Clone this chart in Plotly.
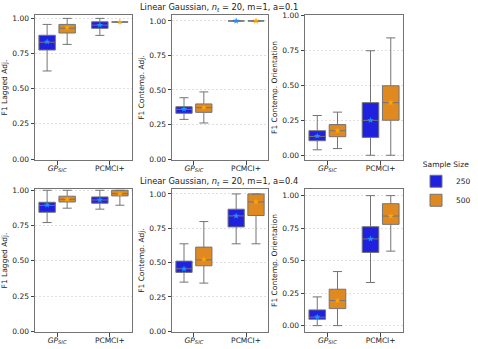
import plotly.graph_objects as go

# ---------------- data ----------------
methods = ["GP_SIC", "PCMCI+"]
method_labels = ["<i>GP</i><sub><i>SIC</i></sub>", "PCMCI+"]
sample_sizes = ["250", "500"]
metric_titles = ["F1 Lagged Adj.", "F1 Contemp. Adj.", "F1 Contemp. Orientation"]
row_titles = ["Linear Gaussian, <i>n</i><sub><i>t</i></sub> = 20, m=1, a=0.1",
              "Linear Gaussian, <i>n</i><sub><i>t</i></sub> = 20, m=1, a=0.4"]
y_tickvals = [0.0, 0.25, 0.5, 0.75, 1.0]

# each entry per method: [lower whisker, q1, median, q3, upper whisker, mean]
a01_lag_250 = [[0.626, 0.775, 0.830, 0.880, 0.957, 0.834], [0.879, 0.929, 0.952, 0.976, 1.000, 0.953]]
a01_lag_500 = [[0.815, 0.896, 0.930, 0.957, 1.000, 0.934], [0.974, 0.974, 0.974, 0.974, 0.974, 0.974]]
a01_adj_250 = [[0.287, 0.331, 0.360, 0.379, 0.444, 0.362], [1.000, 1.000, 1.000, 1.000, 1.000, 1.000]]
a01_adj_500 = [[0.261, 0.338, 0.372, 0.399, 0.486, 0.372], [1.000, 1.000, 1.000, 1.000, 1.000, 1.000]]
a01_ori_250 = [[0.039, 0.104, 0.135, 0.176, 0.285, 0.138], [0.000, 0.128, 0.250, 0.377, 0.749, 0.251]]
a01_ori_500 = [[0.048, 0.133, 0.176, 0.220, 0.309, 0.176], [0.000, 0.251, 0.377, 0.498, 0.841, 0.377]]
a04_lag_250 = [[0.771, 0.844, 0.893, 0.915, 1.000, 0.896], [0.866, 0.908, 0.931, 0.953, 1.000, 0.932]]
a04_lag_500 = [[0.873, 0.917, 0.936, 0.958, 1.000, 0.936], [0.894, 0.960, 0.976, 1.000, 1.000, 0.974]]
a04_adj_250 = [[0.358, 0.429, 0.455, 0.511, 0.637, 0.455], [0.637, 0.760, 0.840, 0.889, 1.000, 0.840]]
a04_adj_500 = [[0.351, 0.477, 0.520, 0.613, 0.799, 0.523], [0.637, 0.843, 0.942, 1.000, 1.000, 0.942]]
a04_ori_250 = [[0.000, 0.049, 0.065, 0.121, 0.221, 0.067], [0.332, 0.563, 0.667, 0.761, 1.000, 0.668]]
a04_ori_500 = [[0.000, 0.131, 0.193, 0.280, 0.416, 0.193], [0.573, 0.779, 0.843, 0.938, 1.000, 0.843]]

panels = [
    [(a01_lag_250, a01_lag_500), (a01_adj_250, a01_adj_500), (a01_ori_250, a01_ori_500)],
    [(a04_lag_250, a04_lag_500), (a04_adj_250, a04_adj_500), (a04_ori_250, a04_ori_500)],
]

# ---------------- style ----------------
W, H = 478, 349
FILL = ["#2020df", "#df8920"]
MEAN = ["#1e90ff", "#ffa500"]
LINE = "#747474"
FONT = "DejaVu Sans"
col_px = [(35, 132), (172, 268), (305, 403)]
row_px = [(15, 160), (189, 332)]
y_ranges = [[[-0.007, 1.024], [-0.007, 1.043], [-0.034, 1.005]],
            [[-0.005, 1.009], [-0.005, 1.036], [-0.049, 1.051]]]
title_px_y = [8, 181]

fig = go.Figure()
layout = dict(
    width=W, height=H, margin=dict(l=0, r=0, t=0, b=0),
    paper_bgcolor="white", plot_bgcolor="white",
    boxmode="group", boxgap=0.24, boxgroupgap=0.18,
    scattermode="group", scattergap=0.24,
    font=dict(family=FONT, size=7.5, color="#222"),
    showlegend=True,
    legend=dict(
        title=dict(text="Sample Size", side="top center", font=dict(size=7.5)),
        x=416 / W, y=1 - 157 / H, xanchor="left", yanchor="top",
        font=dict(size=7.5), bgcolor="rgba(0,0,0,0)",
        itemwidth=30, tracegroupgap=0,
    ),
    annotations=[],
)

for r in range(2):
    for c in range(3):
        i = r * 3 + c + 1
        xa = "x" if i == 1 else f"x{i}"
        ya = "y" if i == 1 else f"y{i}"
        for s in range(2):
            st = panels[r][c][s]
            fig.add_trace(go.Box(
                x=methods,
                lowerfence=[m[0] for m in st], q1=[m[1] for m in st],
                median=[m[2] for m in st], q3=[m[3] for m in st],
                upperfence=[m[4] for m in st],
                name=sample_sizes[s], legendgroup=sample_sizes[s],
                showlegend=(i == 1), offsetgroup=sample_sizes[s],
                fillcolor=FILL[s], line=dict(color=LINE, width=1),
                whiskerwidth=0.55, boxpoints=False,
                xaxis=xa, yaxis=ya, hoverinfo="skip",
            ))
            fig.add_trace(go.Scatter(
                x=methods, y=[m[5] for m in st], mode="markers",
                marker=dict(symbol="star", size=5, color=MEAN[s], line=dict(width=0)),
                name=sample_sizes[s], legendgroup=sample_sizes[s],
                showlegend=False, offsetgroup=sample_sizes[s],
                xaxis=xa, yaxis=ya, hoverinfo="skip",
            ))
        x0, x1 = col_px[c]
        y0, y1 = row_px[r]
        axis_common = dict(showline=True, linecolor=LINE, linewidth=1, mirror=True,
                           ticks="outside", ticklen=3.5, tickwidth=0.8, tickcolor="#444",
                           tickfont=dict(size=7.5, color="#222"), zeroline=False,
                           automargin=False)
        layout["xaxis" if i == 1 else f"xaxis{i}"] = dict(
            domain=[x0 / W, x1 / W], anchor=ya, type="category",
            categoryorder="array", categoryarray=methods,
            tickvals=methods, ticktext=method_labels, ticklabelstandoff=-3,
            range=[-0.42, 1.42], showgrid=False, **axis_common)
        layout["yaxis" if i == 1 else f"yaxis{i}"] = dict(
            domain=[1 - y1 / H, 1 - y0 / H], anchor=xa,
            range=y_ranges[r][c], tickvals=y_tickvals, tickformat=".2f",
            showgrid=True, gridcolor="#e0e0e0", gridwidth=0.7, griddash="2px,2px",
            title=dict(text=metric_titles[c], font=dict(size=7.5), standoff=3),
            **axis_common)
    layout["annotations"].append(dict(
        text=row_titles[r], x=219 / W, y=1 - title_px_y[r] / H, xref="paper", yref="paper",
        xanchor="center", yanchor="middle", showarrow=False,
        font=dict(family=FONT, size=8.3, color="#222")))

fig.update_layout(**layout)
fig.write_html("out.html", config={"displayModeBar": False},
               post_script="document.body.style.margin='0';document.body.style.padding='0';")
